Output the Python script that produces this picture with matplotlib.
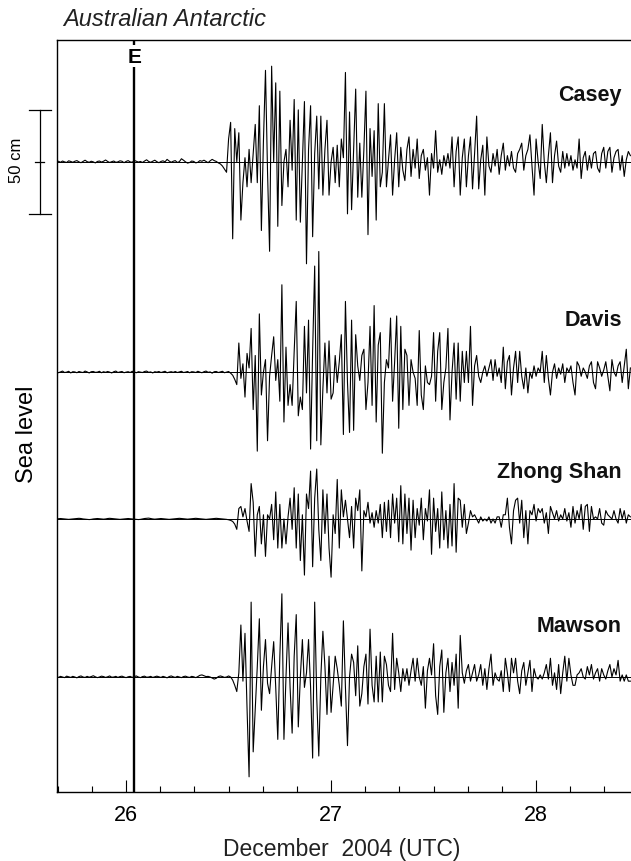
import numpy as np
import matplotlib
matplotlib.use("Agg")
import matplotlib.pyplot as plt
import matplotlib.transforms as mtransforms
from matplotlib.ticker import FixedLocator, MultipleLocator

# ---------------- data ----------------
T0 = 25.66          # first sample, day of December 2004 (UTC)
DT = 0.01           # sampling interval (days)
EVENT_TIME = 26.041 # earthquake origin time "E"
X_TICKS = [26, 27, 28]
X_TICK_LABELS = ["26", "27", "28"]
SCALE_BAR_CM = 50
STATIONS = ["Casey", "Davis", "Zhong Shan", "Mawson"]

# sea-level residuals (cm)
casey = [
    0.0, 0.3, -0.2, 0.4, 0.0, -0.3, 0.5, 0.2, -0.2, 0.3,
    0.6, 0.0, -0.4, 0.2, 0.8, 0.1, -0.2, 0.3, 0.0, -0.5,
    0.2, 0.4, -0.1, 0.3, 0.9, 0.2, -0.3, 0.1, 0.4, -0.2,
    0.0, 0.5, 0.3, -0.4, 0.2, 0.6, 0.0, -0.2, 0.7, 0.3,
    -0.1, 0.2, -0.3, 0.4, 1.0, 0.2, -0.2, 0.3, 0.8, 0.1,
    -0.4, 0.2, 0.5, 0.0, 1.2, 0.4, -0.2, 0.3, 0.6, -0.3,
    0.1, 1.5, 0.8, 0.0, -0.6, -0.3, 0.4, 0.2, -0.5, -0.2,
    0.6, 0.3, 0.8, 0.2, -0.4, 0.5, 1.2, 0.6, 0.2, -0.5,
    -1.0, -2.0, -3.5, -5, 11, 19, -37, 16, 0, 14,
    -28, -10, 2, -12, 6, -10, 4, 18, -10, 27,
    -33, 10, 44, -5, -43, 46, 0, 38, -31, 34,
    -21, 0, 6, -12, 20, -4, 30, -28, 25, -29,
    0, 29, -49, 6, 27, -36, 4, 22, -13, 22,
    -16, 6, 20, -16, 0, 7, -10, 8, -12, 11,
    2, 43, -25, 24, -23, 6, 35, -17, 9, -17,
    6, 34, -35, 16, -7, 15, -28, 28, -12, -5,
    28, -12, 1, 13, -16, 1, 14, -12, 7, -4,
    -9, 6, 12, -7, 6, -3, 11, -8, 3, 6,
    -4, 2, -16, 4, -3, 15, -5, 1, -6, 3,
    -2, 4, -3, 12, -12, 5, 12, -16, 2, 11,
    -12, 3, 12, -13, 4, 22, -13, 1, 8, -16,
    12, -2, -5, 4, -2, 6, -6, 3, 9, -4,
    3, -2, 5, -3, -5, 4, 6, 9, -4, 3,
    6, 13, -2, -16, 11, 0, -8, 18, 0, -10,
    3, 14, -10, 3, 10, -2, -5, 5, -3, 4,
    -2, 3, -4, 1, -3, 11, -8, 2, 5, -4,
    3, -3, 4, 5, -3, -5, 4, 7, -3, 5,
    7, -5, 2, 5, 6, -4, 3, -7, 1, 5, 3,
]

davis = [
    0.2, -0.3, 0.1, 0.5, -0.2, 0.0, 0.4, -0.4, 0.2, 0.1,
    -0.3, 0.3, 0.0, -0.2, 0.5, 0.1, -0.4, 0.2, 0.3, -0.1,
    0.0, 0.4, -0.3, 0.2, -0.1, 0.3, 0.0, -0.4, 0.2, 0.5,
    -0.2, 0.1, 0.3, -0.3, 0.0, 0.2, -0.2, 0.4, 0.1, -0.3,
    0.2, 0.0, -0.2, 0.3, 0.5, -0.1, 0.1, -0.4, 0.2, 0.0,
    0.3, -0.2, 0.1, 0.4, -0.3, 0.0, 0.2, -0.1, 0.3, -0.2,
    0.1, 0.4, -0.2, 0.0, 0.3, -0.3, 0.2, 0.1, -0.2, 0.4,
    0.0, -0.3, 0.2, 0.5, -0.1, 0.1, -0.5, 0.2, 0.3, -0.2,
    0.1, 0.4, -0.3, 0.0, 0.3, -0.5, -1.5, -3.5, -6, 14,
    -3, 4, -12, 9, 2, 21, -18, 8, -38, 28,
    -11, 0, 6, -33, -2, 8, 17, -4, 6, -14,
    42, -24, 12, -16, -6, -16, 10, 34, -21, -12,
    -18, 22, -10, 25, -37, 10, 51, -33, 58, -35,
    -8, 14, -10, 15, -13, -10, 8, -5, 5, 18,
    -30, 34, -5, -29, 25, -28, 18, 3, -4, 8,
    11, -18, -5, 22, -16, 32, -24, 13, 19, -39,
    -5, 6, 2, 26, -14, 5, 27, -27, 22, -18,
    11, 8, -16, 6, 0, -3, -16, 20, -11, -18,
    3, -5, -6, -2, 19, -14, 10, 19, -18, -5,
    2, 21, -23, 0, 14, -13, 14, -14, 10, -5,
    10, -5, 22, -16, 3, 8, -2, -5, 0, 3,
    -2, 2, 6, -4, 6, -2, 2, -5, 12, -8,
    5, 8, -11, 2, 10, -5, 10, -2, -8, 2,
    -10, 0, -3, 3, -2, 2, 0, 10, -5, 8,
    -3, -11, 0, 4, -3, 2, -1, 4, -5, 2,
    0, 3, -5, -11, 5, 3, -2, 2, 0, -3,
    3, 5, -5, -8, 5, 2, -2, 1, 5, -2,
    -9, 6, 0, -2, 3, 5, -5, 3, 11, -8, 2,
]

zhong_shan = [
    0.0, 0.1, 0.2, 0.1, 0.0, -0.1, -0.2, -0.1, 0.0, 0.1,
    0.2, 0.3, 0.2, 0.0, -0.1, -0.2, -0.3, -0.2, 0.0, 0.1,
    0.2, 0.1, 0.0, -0.1, 0.0, 0.2, 0.3, 0.2, 0.1, 0.0,
    -0.1, -0.2, -0.1, 0.0, 0.1, 0.2, 0.1, 0.0, -0.1, -0.2,
    -0.3, -0.2, 0.0, 0.2, 0.3, 0.4, 0.2, 0.0, -0.1, 0.0,
    0.1, 0.2, 0.1, 0.0, -0.1, -0.2, -0.1, 0.0, 0.1, 0.2,
    0.3, 0.2, 0.1, 0.0, -0.1, 0.0, 0.1, 0.2, 0.3, 0.2,
    0.1, 0.0, -0.1, -0.2, -0.1, 0.0, 0.1, 0.2, 0.3, 0.2,
    0.1, 0.0, -0.1, -0.2, -0.4, -0.7, -1.2, -2.5, -5, 5,
    6, 1, 5, -1, -6, 17, 8, -18, 2, 6,
    -12, 2, -18, 2, 0, 7, -10, 13, -14, 7,
    -14, 0, -12, 1, 10, -5, 15, -14, 12, -20,
    2, -27, 12, 5, 23, -23, 10, 24, -5, -20,
    14, -7, 12, -14, -28, 2, -7, 19, -14, 14,
    1, 9, 0, -9, 6, -14, 10, 4, 14, -25,
    4, 1, 8, -2, 3, -4, 4, -2, 7, -9,
    8, -6, 9, -9, 12, -2, 10, -11, 16, -12,
    12, -7, 10, -15, 9, -9, 5, -3, 10, -10,
    5, -1, 14, -17, 10, -6, 5, -14, 13, -10,
    4, -14, 7, -13, 17, -16, 10, 9, -4, 7,
    -7, -2, 4, 1, 2, 0, -2, 1, -1, 0,
    -1, 1, -2, 0, -2, 1, 1, -4, 2, 2,
    10, -4, -12, 4, 9, 10, -2, 9, -9, 4,
    -12, 4, 2, 7, -1, 5, 3, 5, -2, 3,
    -7, 6, 3, 0, 4, -1, 2, 0, 5, -1,
    3, -4, 6, -2, 4, 0, 7, -5, 6, 7,
    -6, 6, 0, 1, 0, 5, -2, -3, 4, 2,
    1, 0, 4, 0, -2, 5, 0, 4, -2, 2, 1,
]

mawson = [
    0.2, -0.2, 0.3, 0.0, -0.3, 0.4, 0.1, -0.2, 0.3, 0.0,
    -0.4, 0.2, 0.5, 0.0, -0.2, 0.3, -0.1, 0.2, 0.6, 0.1,
    -0.3, 0.0, 0.4, 0.2, -0.2, 0.1, 0.5, -0.1, 0.0, 0.3,
    -0.2, 0.2, 0.4, 0.0, -0.3, 0.1, 0.3, -0.2, 0.2, 0.5,
    0.0, -0.3, 0.2, 0.4, -0.1, 0.0, 0.3, -0.2, 0.1, 0.4,
    0.1, -0.2, 0.3, 0.0, -0.4, 0.2, 0.5, 0.1, -0.2, 0.3,
    0.0, -0.3, 0.2, 0.4, 0.0, -0.2, 0.3, 0.1, -0.3, 0.2,
    0.8, 1.0, 0.6, 0.2, 0.3, 0.0, -0.5, -1.0, -0.6, 0.2,
    0.5, 0.2, -0.2, 0.0, 0.5, 0.0, -1.5, -4, -7, 2,
    25, -2, 21, -15, -48, 36, -36, -16, 5, 28,
    -16, 5, 18, -3, -8, 5, 17, -5, -30, 10,
    40, -30, 0, 26, -5, -27, 10, 30, -24, 0,
    18, -5, 2, 18, -5, -39, 36, -10, -38, 0,
    22, 5, -18, 10, -17, -4, 10, 4, -4, -14,
    27, -5, -33, 0, 11, 7, -9, 15, -14, -8,
    5, 11, -13, 23, -4, -12, 10, -12, 12, -12,
    10, 6, -4, -7, 21, -6, 9, 2, -7, 4,
    -2, 4, -4, 3, 9, -2, 9, 0, -4, 5,
    -15, 3, 9, 1, 16, -9, -18, 5, 13, -17,
    2, 9, -7, 7, -4, 11, -15, 20, 2, -3,
    3, 6, -2, 2, 6, -2, 1, 6, -4, 4,
    -6, 4, 11, -4, 2, -1, -2, 3, -7, 9,
    2, -7, 9, 2, 9, -2, -8, 3, 7, -4,
    2, 8, -7, 4, 0, -1, 1, -1, 2, 6,
    -1, 9, -4, 2, -6, 6, -8, 2, 10, -2,
    9, 1, -4, -4, 1, 2, 4, 0, -1, 5,
    1, 6, -1, 2, 4, -2, 4, 1, -1, 3,
    6, 0, 4, 1, 8, -2, 1, -2, 1, -2, -2,
]

series = [casey, davis, zhong_shan, mawson]

# ---------------- layout / style ----------------
W, H = 631, 862
OFFSETS = [247.7, 146.6, 76.0, 0.0]    # vertical stacking of traces (cm)
LABEL_DY = [32.6, 25.5, 23.0, 25.0]    # station label height above its trace
XLIM = (25.663, 28.463)
YLIM = (-55.3, 306.3)

plt.rcParams['font.family'] = ['Liberation Sans', 'DejaVu Sans']

fig = plt.figure(figsize=(W / 100, H / 100), dpi=100)
ax = fig.add_axes([57 / W, (H - 793) / H, (W - 57) / W, (793 - 41) / H])
ax.set_xlim(*XLIM)
ax.set_ylim(*YLIM)

for vals, off in zip(series, OFFSETS):
    v = np.asarray(vals, dtype=float)
    t = T0 + DT * np.arange(len(v))
    ax.axhline(off, color='black', lw=0.7, zorder=2)
    ax.plot(t, v + off, color='black', lw=0.8, zorder=3)

# event line "E"
ax.axvline(EVENT_TIME, color='black', lw=1.7, zorder=4)
ax.text(EVENT_TIME, 298.6, "E", ha='center', va='center', fontsize=15,
        fontweight='bold', zorder=5,
        bbox=dict(facecolor='white', edgecolor='none', pad=1.0))

# station labels
blend = mtransforms.blended_transform_factory(ax.transAxes, ax.transData)
for name, off, dy in zip(STATIONS, OFFSETS, LABEL_DY):
    ax.text(0.984, off + dy, name, transform=blend, ha='right', va='center',
            fontsize=15.5, fontweight='bold', color='#111111')

# scale bar (50 cm) left of the axes, centred on the Casey trace
c = OFFSETS[0]
half = SCALE_BAR_CM / 2
xb = -0.0296
ax.plot([xb, xb], [c - half, c + half], transform=blend, color='black',
        lw=0.9, clip_on=False)
for yy in (c - half, c + half):
    ax.plot([-0.0488, -0.0105], [yy, yy], transform=blend, color='black',
            lw=0.9, clip_on=False)
ax.plot([-0.0383, -0.0226], [c, c], transform=blend, color='black',
        lw=0.9, clip_on=False)
ax.text(-0.071, c + 1, f"{SCALE_BAR_CM} cm", transform=blend, rotation=90,
        ha='center', va='center', fontsize=12)

# y label
ax.text(-0.052, 117.3, "Sea level", transform=blend, rotation=90,
        ha='center', va='center', fontsize=17)

# axes styling
for s in ['left', 'top', 'bottom']:
    ax.spines[s].set_linewidth(1.0)
ax.spines['right'].set_visible(False)
ax.set_yticks([])
ax.xaxis.set_major_locator(FixedLocator(X_TICKS))
ax.set_xticklabels(X_TICK_LABELS)
ax.xaxis.set_minor_locator(MultipleLocator(1 / 6))
ax.tick_params(axis='x', which='major', direction='in', length=9, width=0.8,
               labelsize=15.5, pad=9)
ax.tick_params(axis='x', which='minor', direction='in', length=4.5, width=0.8)

fig.text(63 / W, 1 - 20 / H, "Australian Antarctic", ha='left', va='center',
         fontsize=17, style='italic', color='#222222')
fig.text(342 / W, 1 - 850 / H, "December  2004 (UTC)", ha='center',
         va='center', fontsize=16.5, color='#222222')

fig.savefig("out.png", dpi=100)
